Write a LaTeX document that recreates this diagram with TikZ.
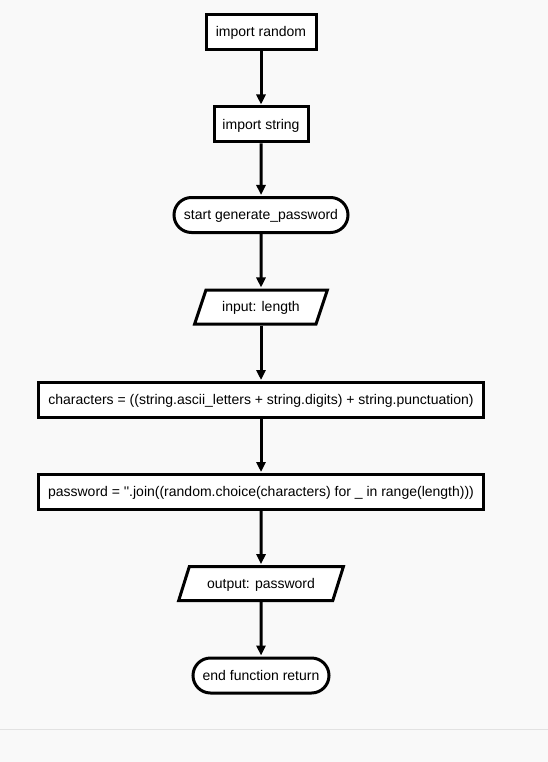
\documentclass[tikz,border=0pt]{standalone}
\usepackage{fontspec}
\setmainfont{Liberation Sans}[Ligatures=TeXOff]
\usetikzlibrary{shapes.geometric,shapes.misc,arrows.meta}
\definecolor{bgc}{HTML}{F9F9F9}
\definecolor{sepc}{HTML}{E2E2E2}
\begin{document}
\begin{tikzpicture}[x=1pt,y=-1pt,
  base/.style={draw=black, line width=3pt, fill=white, text=black,
    font=\fontsize{14}{16}\selectfont, inner sep=0pt, text height=12.7pt, text depth=3pt},
  proc/.style={base, rectangle, minimum height=35pt},
  term/.style={base, rounded rectangle, minimum height=35pt},
  io/.style={base, trapezium, trapezium left angle=63, trapezium right angle=117,
    trapezium stretches=true, minimum height=34pt},
  flow/.style={-{Triangle[length=10pt,width=9pt]}, line width=3pt, shorten >=1pt}]
\fill[bgc] (0,0) rectangle (548,762);
\useasboundingbox (0,0) rectangle (548,762);
\draw[sepc, line width=1pt] (0,729) -- (548,729);

\node[proc, minimum width=110pt] (n1) at (261,32) {import random};
\node[proc, minimum width=94pt] (n2) at (261,124.5) {import string};
\node[term, minimum width=174pt] (n3) at (261,215) {start generate\_password};
\node[io, minimum width=134pt] (n4) at (261,307) {input: length};
\node[proc, minimum width=445pt] (n5) at (261,400) {characters = ((string.ascii\_letters + string.digits) + string.punctuation)};
\node[proc, minimum width=445pt] (n6) at (261,492) {password = ''.join((random.choice(characters) for \_ in range(length)))};
\node[io, minimum width=165pt] (n7) at (261,583.7) {output: password};
\node[term, minimum width=136pt] (n8) at (261,675.5) {end function return};

\draw[flow] (n1) -- (n2);
\draw[flow] (n2) -- (n3);
\draw[flow] (n3) -- (n4);
\draw[flow] (n4) -- (n5);
\draw[flow] (n5) -- (n6);
\draw[flow] (n6) -- (n7);
\draw[flow] (n7) -- (n8);
\end{tikzpicture}
\end{document}
